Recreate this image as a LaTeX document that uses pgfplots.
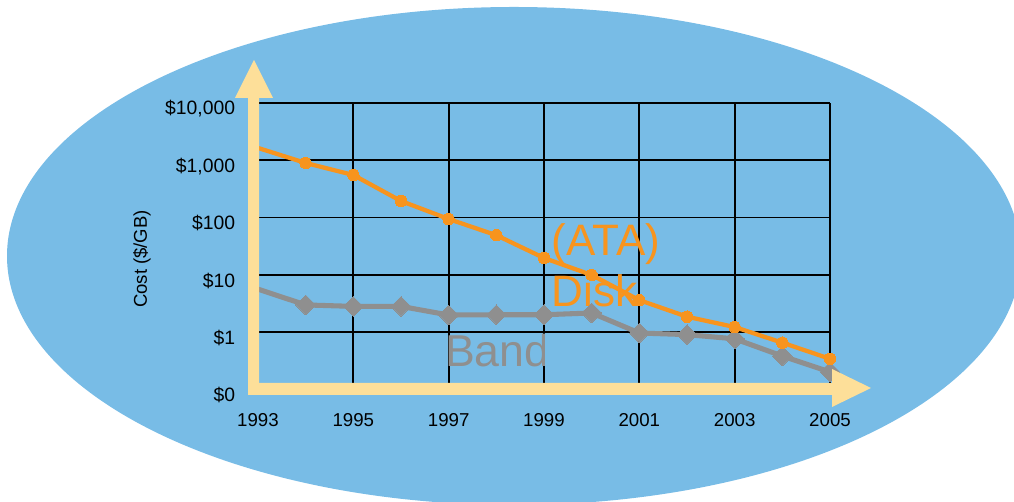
\documentclass[border=0pt]{standalone}
\usepackage{pgfplots}
\pgfplotsset{compat=1.18}
\usepackage{fontspec}
\setmainfont{Liberation Sans}
\definecolor{bgblue}{RGB}{120,188,230}
\definecolor{arrowyellow}{RGB}{253,223,153}
\definecolor{diskorange}{RGB}{247,148,30}
\definecolor{bandgray}{RGB}{143,143,143}
\begin{document}
\begin{tikzpicture}
\begin{scope}[x=0.75pt,y=0.75pt]
\useasboundingbox (0,0) rectangle (1014,502);
\clip (0,0) rectangle (1014,502);
\fill[bgblue] (514,246) ellipse [x radius=507, y radius=249];
\end{scope}
\begin{axis}[
  at={(193.5pt,84.5625pt)}, anchor=south west,
  scale only axis, width=429pt, height=214.69pt,
  clip=false,
  xmin=1993, xmax=2005,
  ymode=log, ymin=0.1, ymax=10000,
  xtick={1993,1995,1997,1999,2001,2003,2005},
  xticklabels={1993,1995,1997,1999,2001,2003,2005},
  ytick={0.1,1,10,100,1000,10000},
  yticklabels={{\$0},{\$1},{\$10},{\$100},{\$1,000},{\$10,000}},
  minor ytick={},
  grid=major,
  major grid style={black, line width=1.4pt},
  axis line style={draw=none},
  tick style={draw=none},
  xticklabel style={font=\fontsize{14}{16}\selectfont, anchor=north, inner sep=0pt, yshift=-18pt},
  yticklabel style={font=\fontsize{14.5}{17}\selectfont, anchor=east, inner sep=0pt, xshift=-17pt, yshift=-4.5pt},
  ylabel={Cost (\$/GB)},
  ylabel style={font=\fontsize{13.9}{16}\selectfont, at={(axis description cs:-0.2028,0.455)}, anchor=center},
]
\addplot[bandgray, line width=3.8pt, line join=round, mark=square*, mark size=5.2pt,
  mark indices={2,3,4,5,6,7,8,9,10,11,12,13},
  mark options={rotate=45, solid, line width=0pt, fill=bandgray, draw=bandgray}]
coordinates {
(1993,5.6) (1994,2.97) (1995,2.8) (1996,2.8) (1997,1.98) (1998,2.0) (1999,2.0)
(2000,2.15) (2001,0.96) (2002,0.9) (2003,0.76) (2004,0.38) (2005,0.20)
};
\addplot[diskorange, line width=3.2pt, line join=round, mark=*, mark size=4.3pt,
  mark indices={2,3,4,5,6,7,8,9,10,11,12,13},
  mark options={solid, line width=0pt, fill=diskorange, draw=diskorange}]
coordinates {
(1993,1640) (1994,895) (1995,552) (1996,194) (1997,94) (1998,49) (1999,19.6)
(2000,9.9) (2001,3.6) (2002,1.85) (2003,1.22) (2004,0.65) (2005,0.34)
};
\node[anchor=base west, inner sep=0pt, text=diskorange, font=\fontsize{33}{39}\selectfont] at (axis cs:1999.16,22.1) {(ATA)};
\node[anchor=base west, inner sep=0pt, text=diskorange, font=\fontsize{33}{39}\selectfont] at (axis cs:1999.16,2.77) {Disk};
\begin{scope}
\clip (axis cs:1993,0.1) rectangle (axis cs:1999,10000);
\node[anchor=base west, inner sep=0pt, text=bandgray, font=\fontsize{33.5}{39}\selectfont] at (axis cs:1996.92,0.248) {Band};
\end{scope}
\end{axis}
\begin{scope}[x=0.75pt,y=0.75pt]
\fill[arrowyellow] (248,107) -- (248,404) -- (235,404) -- (254,442) -- (273,404) -- (259,404) -- (259,107) -- cycle;
\fill[arrowyellow] (248,107) -- (832,107) -- (832,95) -- (871,114) -- (832,133) -- (832,119) -- (248,119) -- cycle;
\end{scope}
\end{tikzpicture}
\end{document}
